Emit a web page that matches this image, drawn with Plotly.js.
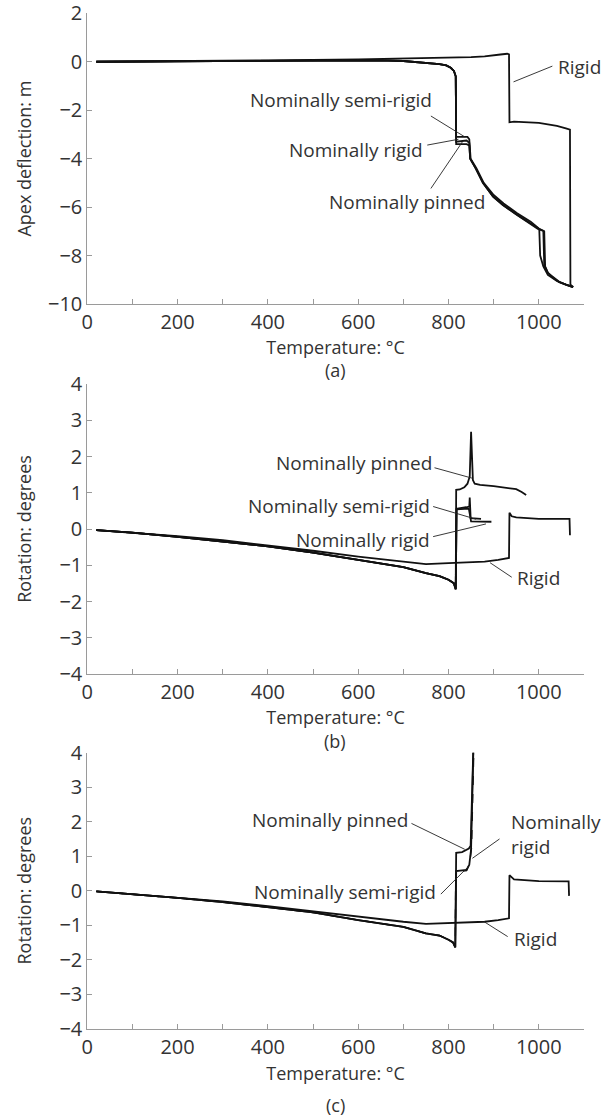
<!DOCTYPE html>
<html>
<head>
<meta charset="utf-8">
<script src="https://cdn.plot.ly/plotly-3.0.1.min.js"></script>
<style>html,body{margin:0;padding:0;background:#fff;}#chart{width:612px;height:1117px;}</style>
</head>
<body>
<div id="chart"></div>
<script>
// ---------- Panel (a): apex deflection (m) vs temperature (°C) ----------
const aRigidT = [20, 200, 400, 600, 700, 800, 850, 880, 900, 915, 930, 934, 935, 945, 1000, 1020, 1040, 1060, 1069, 1070, 1076];
const aRigidD = [0, 0.02, 0.06, 0.1, 0.13, 0.17, 0.19, 0.22, 0.25, 0.3, 0.33, 0.3, -2.5, -2.47, -2.52, -2.57, -2.65, -2.75, -2.8, -9.2, -9.3];

const aPinnedT = [20, 200, 400, 600, 650, 700, 750, 780, 795, 805, 812, 816, 817, 840, 846, 848, 860, 876, 898, 920, 950, 980, 995, 1001, 1003, 1010, 1020, 1040, 1060, 1076];
const aPinnedD = [0, 0.02, 0.05, 0.07, 0.06, 0.03, -0.04, -0.1, -0.15, -0.25, -0.38, -0.6, -3.4, -3.4, -3.45, -4.0, -4.4, -5.0, -5.55, -5.9, -6.3, -6.65, -6.85, -6.9, -8.0, -8.45, -8.8, -9.05, -9.2, -9.3];

const aSemiT = [20, 200, 400, 600, 650, 700, 750, 780, 795, 805, 812, 816, 817, 842, 846, 849, 862, 878, 900, 922, 952, 982, 1000, 1012, 1014, 1020, 1030, 1045, 1060, 1076];
const aSemiD = [0, 0.02, 0.05, 0.07, 0.06, 0.03, -0.04, -0.1, -0.15, -0.25, -0.38, -0.6, -3.1, -3.1, -3.2, -4.0, -4.4, -5.0, -5.5, -5.85, -6.25, -6.6, -6.88, -7.0, -8.45, -8.7, -8.9, -9.1, -9.2, -9.3];

const aNomRigidT = [20, 200, 400, 600, 650, 700, 750, 780, 795, 805, 812, 816, 817, 840, 846, 848, 861, 877, 899, 921, 951, 981, 998, 1010, 1012, 1020, 1030, 1045, 1060, 1076];
const aNomRigidD = [0, 0.02, 0.05, 0.07, 0.06, 0.03, -0.04, -0.1, -0.15, -0.25, -0.38, -0.6, -3.3, -3.25, -3.35, -4.0, -4.42, -5.02, -5.58, -5.92, -6.32, -6.68, -6.9, -6.98, -8.4, -8.72, -8.88, -9.08, -9.2, -9.3];

// ---------- Panel (b): rotation (degrees) vs temperature ----------
const bRigidT = [20, 100, 200, 300, 400, 500, 600, 700, 750, 800, 850, 880, 910, 934, 935, 940, 950, 1000, 1068, 1069];
const bRigidR = [-0.03, -0.1, -0.2, -0.31, -0.45, -0.6, -0.76, -0.9, -0.97, -0.94, -0.92, -0.9, -0.85, -0.8, 0.45, 0.35, 0.32, 0.28, 0.28, -0.17];

const bPinnedT = [20, 100, 200, 300, 400, 500, 600, 700, 750, 780, 800, 812, 816, 817, 825, 835, 842, 847, 850, 852, 854, 858, 870, 900, 930, 950, 962, 972];
const bPinnedR = [-0.03, -0.1, -0.22, -0.34, -0.48, -0.65, -0.86, -1.05, -1.22, -1.3, -1.4, -1.5, -1.66, 1.08, 1.09, 1.15, 1.25, 1.45, 2.68, 2.0, 1.35, 1.25, 1.22, 1.18, 1.14, 1.1, 1.02, 0.94];

const bSemiT = [20, 100, 200, 300, 400, 500, 600, 700, 750, 780, 800, 812, 816, 818, 839, 846, 847, 849, 872];
const bSemiR = [-0.03, -0.1, -0.22, -0.34, -0.48, -0.65, -0.86, -1.05, -1.22, -1.3, -1.4, -1.5, -1.66, 0.56, 0.6, 0.62, 0.87, 0.3, 0.28];

const bNomRigidT = [20, 100, 200, 300, 400, 500, 600, 700, 750, 780, 800, 812, 816, 818, 845, 850, 895];
const bNomRigidR = [-0.03, -0.1, -0.22, -0.34, -0.48, -0.65, -0.86, -1.05, -1.22, -1.3, -1.4, -1.5, -1.66, 0.54, 0.56, 0.21, 0.2];

// ---------- Panel (c): rotation (degrees) vs temperature ----------
const cRigidT = [20, 100, 200, 300, 400, 500, 600, 700, 750, 800, 850, 880, 910, 934, 935, 945, 1000, 1066, 1067];
const cRigidR = [-0.02, -0.1, -0.2, -0.31, -0.45, -0.6, -0.77, -0.9, -0.96, -0.94, -0.92, -0.9, -0.85, -0.8, 0.45, 0.33, 0.28, 0.27, -0.15];

const cPinnedT = [20, 100, 200, 300, 400, 500, 600, 700, 750, 780, 800, 810, 815, 817, 830, 845, 849, 851, 853, 856];
const cPinnedR = [-0.02, -0.1, -0.21, -0.33, -0.47, -0.63, -0.85, -1.05, -1.24, -1.3, -1.42, -1.5, -1.64, 1.1, 1.12, 1.22, 1.3, 2.5, 4.0, 4.6];

const cSemiT = [20, 100, 200, 300, 400, 500, 600, 700, 750, 780, 800, 810, 815, 817, 840, 846, 850, 853, 856];
const cSemiR = [-0.02, -0.1, -0.21, -0.33, -0.47, -0.63, -0.85, -1.05, -1.24, -1.3, -1.42, -1.5, -1.64, 0.57, 0.6, 0.75, 1.2, 3.0, 4.6];

const cNomRigidT = [20, 100, 200, 300, 400, 500, 600, 700, 750, 780, 800, 810, 815, 816, 840, 847, 851, 854, 857];
const cNomRigidR = [-0.02, -0.1, -0.21, -0.33, -0.47, -0.63, -0.85, -1.05, -1.24, -1.3, -1.42, -1.5, -1.64, 0.55, 0.58, 0.8, 1.25, 3.5, 4.6];

// ---------- Tick labels ----------
const xTickVals = [0, 200, 400, 600, 800, 1000];
const aYTickVals = [-10, -8, -6, -4, -2, 0, 2];
const bcYTickVals = [-4, -3, -2, -1, 0, 1, 2, 3, 4];

const FONT = 'Open Sans, Noto Sans, sans-serif';
const TXT = '#333333';
const AX = '#9a9a9a';
const LINE = '#111111';
const FS = 19;   // label size
const TTS = 18;  // axis title / panel tag size
const TFS = 20;  // tick label size

function tr(x, y, xa, ya, dash, w) {
  return {x: x, y: y, xaxis: xa, yaxis: ya, type: 'scatter', mode: 'lines',
    line: {color: LINE, width: w || 1.8, dash: dash || 'solid'}, showlegend: false, hoverinfo: 'skip'};
}

const data = [
  tr(aRigidT, aRigidD, 'x', 'y'),
  tr(aPinnedT, aPinnedD, 'x', 'y'),
  tr(aSemiT, aSemiD, 'x', 'y'),
  tr(aNomRigidT, aNomRigidD, 'x', 'y'),
  tr(bRigidT, bRigidR, 'x2', 'y2'),
  tr(bPinnedT, bPinnedR, 'x2', 'y2'),
  tr(bSemiT, bSemiR, 'x2', 'y2'),
  tr(bNomRigidT, bNomRigidR, 'x2', 'y2'),
  tr(cRigidT, cRigidR, 'x3', 'y3'),
  tr(cPinnedT, cPinnedR, 'x3', 'y3'),
  tr(cSemiT, cSemiR, 'x3', 'y3'),
  tr(cNomRigidT, cNomRigidR, 'x3', 'y3', 'dash', 1.4)
];

function xAxis(anchor, standoff) {
  return {
    domain: [0.1426, 0.9542], anchor: anchor, range: [0, 1100],
    tickvals: xTickVals, ticks: 'inside', ticklen: 5, tickcolor: AX, tickwidth: 1,
    minor: {tickvals: [100, 300, 500, 700, 900, 1100], ticks: 'inside', ticklen: 5, tickcolor: AX, tickwidth: 1, showgrid: false},
    showline: true, linecolor: AX, linewidth: 1, showgrid: false, zeroline: false,
    tickfont: {family: FONT, size: TFS, color: TXT}, ticklabeloverflow: 'allow',
    title: {text: 'Temperature: °C', font: {family: FONT, size: TTS, color: TXT}, standoff: standoff},
    automargin: false, fixedrange: true
  };
}
function yAxis(dom, anchor, range, vals, title, standoff) {
  return {
    domain: dom, anchor: anchor, range: range, tickvals: vals,
    ticks: 'inside', ticklen: 5, tickcolor: AX, tickwidth: 1,
    showline: true, linecolor: AX, linewidth: 1, showgrid: false, zeroline: false,
    tickfont: {family: FONT, size: TFS, color: TXT}, ticklabeloverflow: 'allow',
    title: {text: title, font: {family: FONT, size: TTS, color: TXT}, standoff: standoff},
    automargin: false, fixedrange: true
  };
}

function note(text, x, y, xr, yr, xanchor) {
  return {text: text, x: x, y: y, xref: xr, yref: yr, showarrow: false,
    xanchor: xanchor || 'center', yanchor: 'middle', align: 'left',
    font: {family: FONT, size: FS, color: TXT}};
}
function panelTag(text, py) {
  return {text: text, x: 0.5475, y: 1 - py / 1117, xref: 'paper', yref: 'paper', showarrow: false,
    yanchor: 'middle', font: {family: FONT, size: TTS, color: TXT}};
}
function ptr(x0, y0, x1, y1, xr, yr) {
  return {type: 'line', x0: x0, y0: y0, x1: x1, y1: y1, xref: xr, yref: yr,
    line: {color: '#222222', width: 0.9}};
}

const annotations = [
  note('Rigid', 1039, -0.2, 'x', 'y', 'left'),
  note('Nominally semi-rigid', 563, -1.58, 'x', 'y'),
  note('Nominally rigid', 595, -3.65, 'x', 'y'),
  note('Nominally pinned', 707, -5.8, 'x', 'y'),
  note('Nominally pinned', 590, 1.81, 'x2', 'y2'),
  note('Nominally semi-rigid', 557, 0.63, 'x2', 'y2'),
  note('Nominally rigid', 610, -0.3, 'x2', 'y2'),
  note('Rigid', 948, -1.36, 'x2', 'y2', 'left'),
  note('Nominally pinned', 538, 2.05, 'x3', 'y3'),
  note('Nominally<br>rigid', 935, 1.64, 'x3', 'y3', 'left'),
  note('Nominally semi-rigid', 570, -0.03, 'x3', 'y3'),
  note('Rigid', 940, -1.41, 'x3', 'y3', 'left'),
  panelTag('(a)', 370),
  panelTag('(b)', 741),
  panelTag('(c)', 1105)
];

const shapes = [
  ptr(1030, -0.18, 944, -0.83, 'x', 'y'),
  ptr(761, -2.24, 836, -3.1, 'x', 'y'),
  ptr(753, -3.44, 822, -3.2, 'x', 'y'),
  ptr(761, -5.23, 831, -3.3, 'x', 'y'),
  ptr(769, 1.69, 853, 1.4, 'x2', 'y2'),
  ptr(766, 0.62, 861, 0.27, 'x2', 'y2'),
  ptr(766, -0.21, 883, 0.14, 'x2', 'y2'),
  ptr(940, -1.33, 892, -0.93, 'x2', 'y2'),
  ptr(718, 1.95, 836, 1.2, 'x3', 'y3'),
  ptr(913, 1.5, 853, 0.94, 'x3', 'y3'),
  ptr(783, -0.1, 844, 0.7, 'x3', 'y3'),
  ptr(931, -1.33, 879, -0.9, 'x3', 'y3')
];

const layout = {
  width: 612, height: 1117,
  margin: {l: 0, r: 0, t: 0, b: 0},
  paper_bgcolor: '#ffffff', plot_bgcolor: '#ffffff',
  showlegend: false,
  font: {family: FONT, size: FS, color: TXT},
  xaxis: xAxis('y', 0),
  yaxis: yAxis([0.72784, 0.98809], 'x', [-10, 2], aYTickVals, 'Apex deflection: m', 11),
  xaxis2: xAxis('y2', 0),
  yaxis2: yAxis([0.39660, 0.65622], 'x2', [-4, 4], bcYTickVals, 'Rotation: degrees', 23),
  xaxis3: xAxis('y3', 8),
  yaxis3: yAxis([0.07905, 0.32614], 'x3', [-4, 4], bcYTickVals, 'Rotation: degrees', 23),
  annotations: annotations,
  shapes: shapes
};

Plotly.newPlot('chart', data, layout, {staticPlot: true, displayModeBar: false});
</script>
</body>
</html>
